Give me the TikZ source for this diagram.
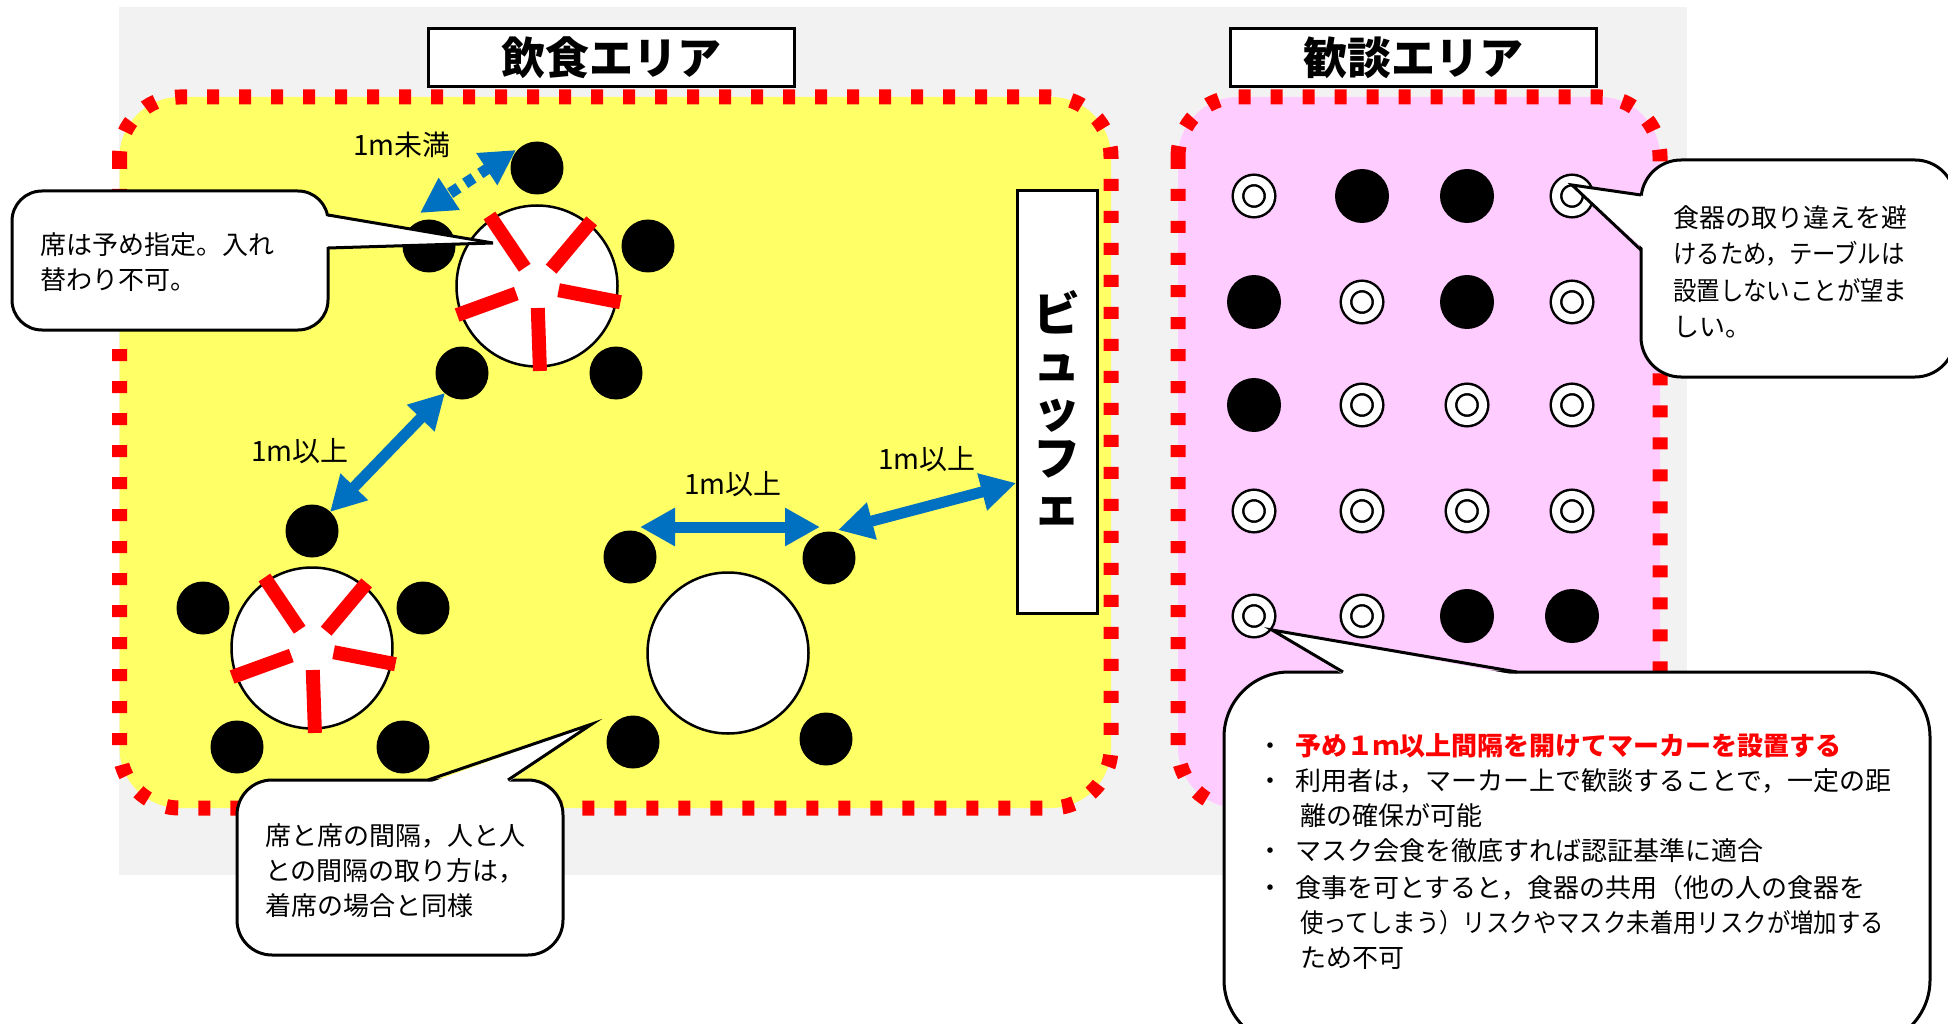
\documentclass[tikz,border=0pt]{standalone}
\usepackage{fontspec}
\setmainfont{Noto Sans CJK JP}
\newfontfamily\jpnarrow[FakeStretch=0.9]{Noto Sans CJK JP}
\usetikzlibrary{arrows.meta,calc}
\definecolor{bggray}{HTML}{F2F2F2}
\definecolor{yel}{HTML}{FFFF66}
\definecolor{pnk}{HTML}{FFCCFF}
\definecolor{blu}{HTML}{0070C0}
\definecolor{rd}{HTML}{FF0000}
\tikzset{
  zone/.style={draw=rd, line width=15pt, dash pattern=on 12pt off 20pt, rounded corners=60pt},
  titlebox/.style={draw=black, line width=3pt, fill=white, minimum width=366pt, minimum height=58pt, inner sep=0pt, font=\fontsize{44}{44}\selectfont\bfseries},
  seat/.style={circle, fill=black, minimum size=53pt, inner sep=0pt},
  tbl/.style={circle, draw=black, line width=2.5pt, fill=white, minimum size=161pt, inner sep=0pt},
  spoke/.style={draw=rd, line width=14pt},
  ring/.style={circle, draw=black, line width=2.5pt, double=white, double distance=8pt, fill=white, minimum size=32pt, inner sep=0pt},
  blackdot/.style={circle, fill=black, minimum size=54pt, inner sep=0pt},
  gap/.style={draw=blu, line width=11pt, arrows={Triangle[length=35pt,width=36pt]-Triangle[length=35pt,width=36pt]}},
  gapdash/.style={gap, dash pattern=on 10pt off 8pt},
  lbl/.style={font=\fontsize{28}{28}\selectfont, inner sep=0pt},
  cbox/.style={draw=black, line width=3pt, fill=white},
  cline/.style={draw=black, line width=3pt, line join=miter},
  ctext/.style={font=\fontsize{26}{35}\selectfont, inner sep=0pt, anchor=base west},
}
\begin{document}
\begin{tikzpicture}[x=1pt,y=-1pt]
\useasboundingbox (0,0) rectangle (1948,1024);
% background
\fill[bggray] (119,7) rectangle (1687,875);
\fill[yel, rounded corners=60pt] (119.5,97) rectangle (1111,808);
\fill[pnk, rounded corners=60pt] (1178,97) rectangle (1660,808);
\draw[zone] (119.5,97) rectangle (1111,808);
\draw[zone] (1178,97) rectangle (1660,808);
% titles
\node[titlebox] (t1) at (611.5,58) {飲食エリア};
\node[titlebox] (t2) at (1413,58) {歓談エリア};
% buffet
\node[draw=black, line width=3pt, fill=white, minimum width=80pt, minimum height=422pt, inner sep=0pt] (buf) at (1057,402) {};
\node[font=\fontsize{47}{48}\selectfont\bfseries, align=center, inner sep=0pt] (buftxt) at (1057,408) {ビ\\ュ\\ッ\\フ\\ェ};
% tables
\node[tbl] (T1) at (537,286) {};
\node[tbl] (T2) at (312,648) {};
\node[tbl] (T3) at (728,653) {};
\foreach \a in {236,310,11,88,160} {
  \draw[spoke] ($(T1)+(\a:22)$) -- ($(T1)+(\a:85)$);
  \draw[spoke] ($(T2)+(\a:22)$) -- ($(T2)+(\a:85)$);
}
% seats
\node[seat] (s11) at (537,168) {};
\node[seat] (s12) at (429,246) {};
\node[seat] (s13) at (648,246) {};
\node[seat] (s14) at (462,373) {};
\node[seat] (s15) at (616,373) {};
\node[seat] (s21) at (312,531) {};
\node[seat] (s22) at (203,608) {};
\node[seat] (s23) at (423,608) {};
\node[seat] (s24) at (237,747) {};
\node[seat] (s25) at (403,747) {};
\node[seat] (s31) at (630,557) {};
\node[seat] (s32) at (829,558) {};
\node[seat] (s33) at (633,742) {};
\node[seat] (s34) at (826,739) {};
% markers in chat area
\foreach \r/\y in {1/196,2/302,3/405,4/511,5/616} {
  \foreach \c/\x in {1/1254,2/1362,3/1467,4/1572} {
    \coordinate (m\r\c) at (\x,\y);
  }
}
\foreach \m in {m12,m13,m21,m23,m31,m53,m54} \node[blackdot] (d\m) at (\m) {};
\foreach \m in {m11,m14,m22,m24,m32,m33,m34,m41,m42,m43,m44,m51,m52} \node[ring] (r\m) at (\m) {};
% arrows
\coordinate (a1s) at (516,150); \coordinate (a1e) at (420,213);
\coordinate (a2s) at (445,393); \coordinate (a2e) at (330,512);
\coordinate (a3s) at (640,527); \coordinate (a3e) at (820,527);
\coordinate (a4s) at (838,530); \coordinate (a4e) at (1016,483);
\draw[gapdash] (a1s) -- (a1e);
\draw[gap] (a2s) -- (a2e);
\draw[gap] (a3s) -- (a3e);
\draw[gap] (a4s) -- (a4e);
\node[lbl] (l1) at (402,145) {1m未満};
\node[lbl] (l2) at (300,451) {1m以上};
\node[lbl] (l3) at (733,484) {1m以上};
\node[lbl] (l4) at (927,459) {1m以上};
% callout 1
\path[cbox, rounded corners=30pt] (12,191) rectangle (328,330);
\fill[white] (325,216) -- (493,243) -- (325,247) -- cycle;
\draw[cline] (328,215) -- (493,243) -- (328,248);
\foreach \t [count=\i] in {席は予め指定。入れ, 替わり不可。}
  \node[ctext] (c1l\i) at (40,{255+35*(\i-1)}) {\t};
% callout 2
\path[cbox, rounded corners=35pt] (237,780) rectangle (563,955);
\fill[white] (429,783) -- (592,724) -- (507,783) -- cycle;
\draw[cline] (428,780) -- (592,724) -- (508,780);
\foreach \t [count=\i] in {席と席の間隔，人と人, との間隔の取り方は，, 着席の場合と同様}
  \node[ctext] (c2l\i) at (265,{845+35*(\i-1)}) {\t};
% callout 3
\path[cbox, rounded corners=40pt] (1641,160) rectangle (1955,377);
\fill[white] (1644,196) -- (1572,185) -- (1644,249) -- cycle;
\draw[cline] (1641,195) -- (1572,185) -- (1641,250);
\node[ctext] (c3l1) at (1673,228) {食器の取り違えを避};
\node[ctext] (c3l2) at (1673,264) {\jpnarrow けるため，テーブルは};
\node[ctext] (c3l3) at (1673,300) {\jpnarrow 設置しないことが望ま};
\node[ctext] (c3l4) at (1673,336) {しい。};
% callout 4
\path[cbox, rounded corners=65pt] (1224,672) rectangle (1930,1045);
\fill[white] (1344,675) -- (1272,630) -- (1516,675) -- cycle;
\draw[cline] (1343,672) -- (1272,630) -- (1517,672);
\node[ctext] (bu1) at (1257,755) {・};
\node[ctext] (bu2) at (1257,790) {・};
\node[ctext] (bu3) at (1257,860) {・};
\node[ctext] (bu4) at (1257,897) {・};
\node[ctext, text=rd, font=\fontsize{26}{35}\selectfont\bfseries] (c4l1) at (1295,755) {予め１ｍ以上間隔を開けてマーカーを設置する};
\node[ctext] (c4l2) at (1295,790) {利用者は，マーカー上で歓談することで，一定の距};
\node[ctext] (c4l3) at (1300,825) {離の確保が可能};
\node[ctext] (c4l4) at (1295,860) {マスク会食を徹底すれば認証基準に適合};
\node[ctext] (c4l5) at (1295,897) {食事を可とすると，食器の共用（他の人の食器を};
\node[ctext] (c4l6) at (1300,932) {\jpnarrow 使ってしまう）リスクやマスク未着用リスクが増加する};
\node[ctext] (c4l7) at (1300,967) {ため不可};
\end{tikzpicture}
\end{document}
